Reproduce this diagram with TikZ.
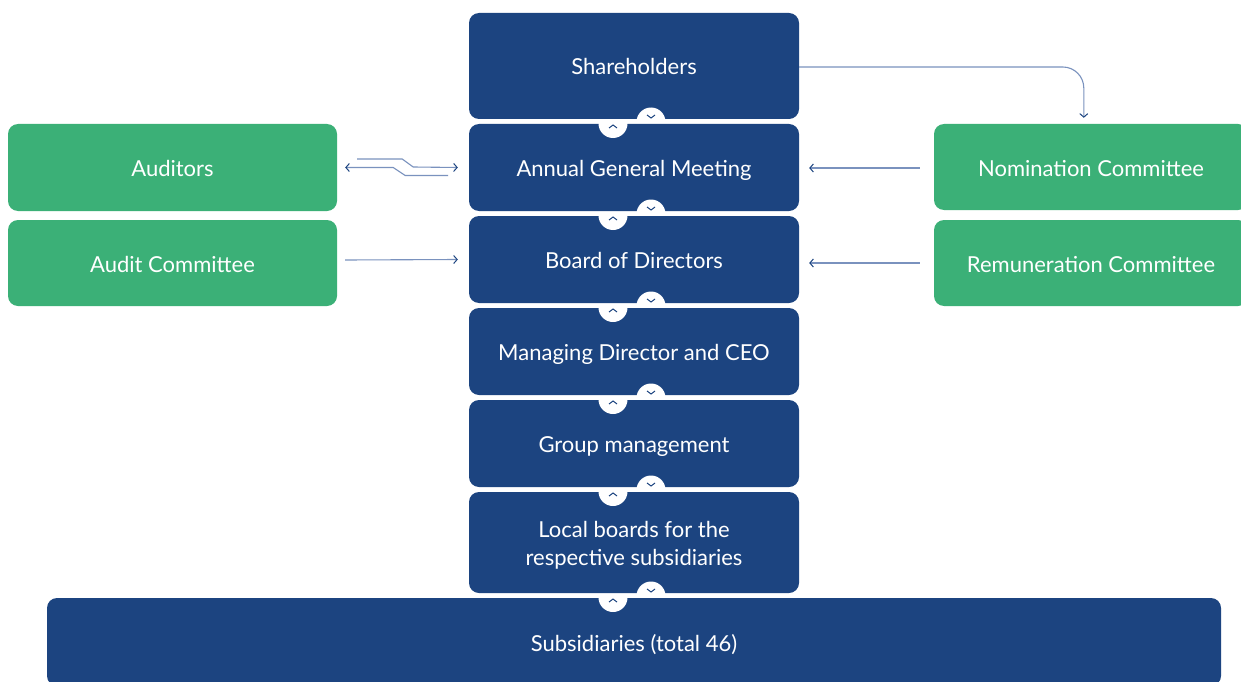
\documentclass[tikz,border=0pt]{standalone}
\usepackage{fontspec}
\setmainfont{Lato}
\usetikzlibrary{arrows.meta,calc}
\definecolor{navy}{HTML}{1C4480}
\definecolor{grn}{HTML}{3BB077}
\definecolor{lineblue}{HTML}{7A92BE}
\tikzset{
  base/.style={rounded corners=10pt,inner sep=0pt,text=white,align=center,
    font=\fontsize{22}{28}\selectfont},
  one/.style={text height=20pt,text depth=2pt},
  bluebox/.style={base,fill=navy,minimum width=330pt},
  greenbox/.style={base,one,fill=grn},
  chev/.style={draw=navy,line width=1pt},
  conn/.style={draw=lineblue,line width=1.1pt},
  tip/.style={-{Straight Barb[length=3.5pt,width=8pt,color=navy,line width=1pt]}},
  rtip/.style={{Straight Barb[length=3.5pt,width=8pt,color=navy,line width=1pt]}-}
}
\begin{document}
\begin{tikzpicture}[x=1pt,y=-1pt]
\clip (0,0) rectangle (1241,682);
\useasboundingbox (0,0) rectangle (1241,682);
\fill[white] (0,0) rectangle (1241,682);
% stacked boxes
\node[bluebox,one,minimum height=106pt] (sh) at (634,66) {Shareholders};
\node[bluebox,one,minimum height=87pt] (agm) at (634,167.5) {Annual General Meeting};
\node[bluebox,one,minimum height=87pt] (bod) at (634,259.5) {Board of Directors};
\node[bluebox,one,minimum height=87pt] (md) at (634,351.5) {Managing Director and CEO};
\node[bluebox,one,minimum height=87pt] (gm) at (634,443.5) {Group management};
\node[bluebox,minimum height=101pt] (lb) at (634,542.5) {\rule{0pt}{22pt}Local boards for the\\respective subsidiaries};
\node[bluebox,one,minimum width=1174pt,minimum height=88pt] (sub) at (634,642) {Subsidiaries (total 46)};
% side boxes
\node[greenbox,minimum width=329pt,minimum height=87pt] (aud) at (172.5,167.5) {Auditors};
\node[greenbox,minimum width=329pt,minimum height=86pt] (ac) at (172.5,263) {Audit Committee};
\node[greenbox,minimum width=314pt,minimum height=86pt] (nc) at (1091,167) {Nomination Committee};
\node[greenbox,minimum width=314pt,minimum height=86pt] (rc) at (1091,263) {Remuneration Committee};
% half circles with chevrons
\foreach \g [count=\i] in {121.5,213.5,305.5,397.5,489.5,595.5}{
  \coordinate (d\i) at (651,\g);
  \coordinate (u\i) at (613,\g);
  \begin{scope}
    \clip (630,\g) rectangle (672,\g-20);
    \fill[white] ($(d\i)+(0,0.5)$) circle[radius=14.5];
  \end{scope}
  \begin{scope}
    \clip (592,\g) rectangle (634,\g+20);
    \fill[white] ($(u\i)+(0,2)$) circle[radius=14.5];
  \end{scope}
  \draw[chev] ($(d\i)+(-4,-6.5)$) -- ++(4,3) -- ++(4,-3);
  \draw[chev] ($(u\i)+(-4,6.5)$) -- ++(4,-3) -- ++(4,3);
}
% connectors
\draw[conn,tip] ($(aud.east)+(20,-8.5)$) -- ++(45,0) -- ++(11,8) -- ($(agm.west)+(-11,0)$);
\draw[conn,rtip] ($(aud.east)+(8,0)$) -- ++(48,0) -- ++(12,8) -- ++(43,0);
\draw[conn,tip] ($(ac.east)+(8,-3)$) -- ($(bod.west)+(-11,0)$);
\draw[conn,tip] ($(nc.west)+(-14,1)$) -- ($(agm.east)+(10,0.5)$);
\draw[conn,tip] ($(rc.west)+(-14,0)$) -- ($(bod.east)+(10,3.5)$);
\draw[conn,tip,rounded corners=21pt] ($(sh.east)+(0,1)$) -| ($(nc.north west)+(150,-6)$);
\end{tikzpicture}
\end{document}
